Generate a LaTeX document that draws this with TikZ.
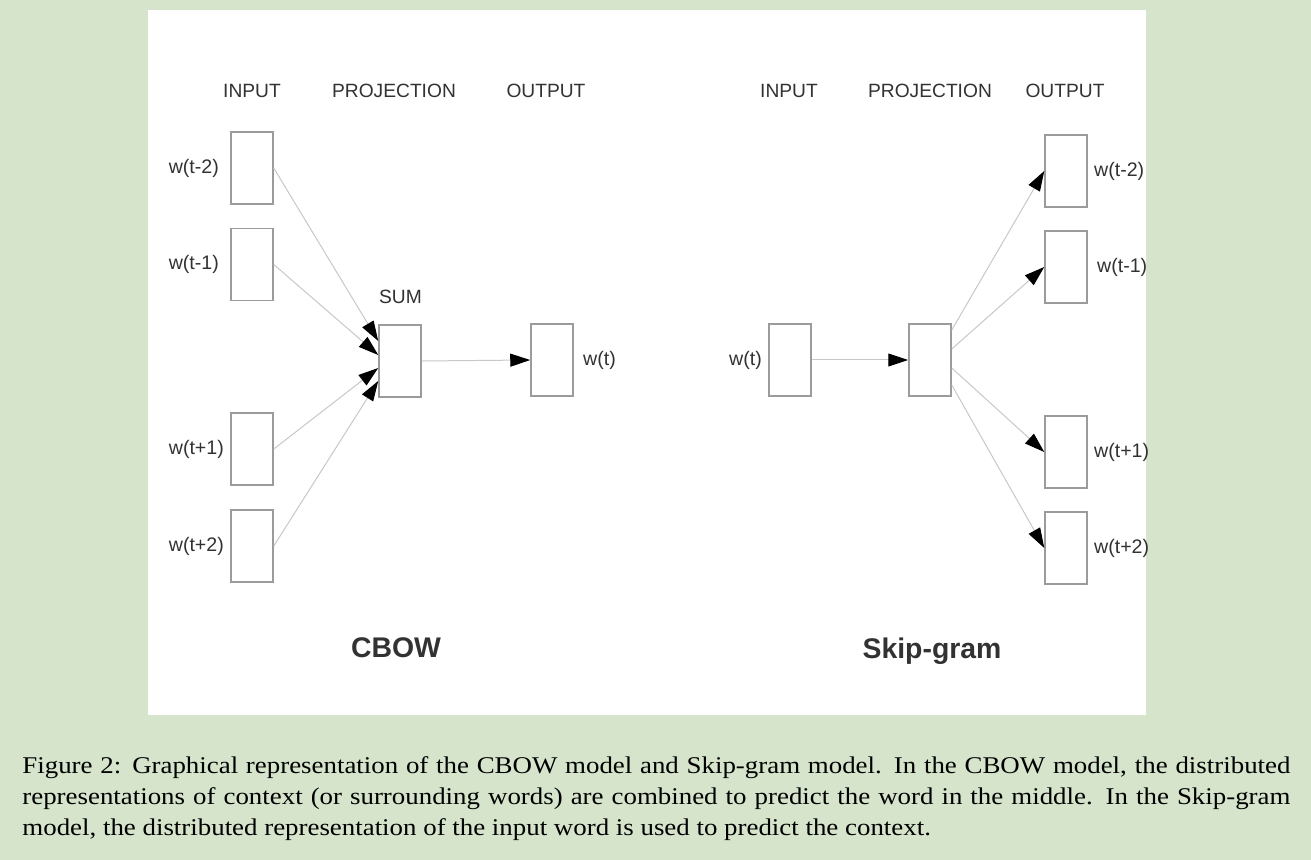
\documentclass[tikz,border=0pt]{standalone}
\usepackage{fontspec}
\setmainfont{Liberation Serif}[FakeStretch=1.12]
\setsansfont{Liberation Sans}
\usepackage{tikz}
\usetikzlibrary{arrows.meta,positioning}
\definecolor{bggreen}{RGB}{213,228,203}
\definecolor{boxgray}{RGB}{155,155,155}
\definecolor{wiregray}{RGB}{200,200,200}
\definecolor{inkgray}{RGB}{50,50,50}
\tikzstyle{cell}=[rectangle,draw=boxgray,line width=0.75pt,fill=white,
  minimum width=21pt,minimum height=36pt,inner sep=0pt]
\tikzstyle{hdr}=[font=\sffamily\fontsize{9.6}{11}\selectfont,text=inkgray]
\tikzstyle{wlabel}=[font=\sffamily\fontsize{9.8}{11}\selectfont,text=inkgray,inner sep=0pt]
\tikzstyle{mname}=[font=\sffamily\bfseries\fontsize{14.2}{16}\selectfont,text=inkgray]
\tikzstyle{caption}=[text width=634pt,align=justify,inner sep=0pt,
  font=\fontsize{12}{15.5}\selectfont]
\tikzstyle{arrow}=[-{Triangle[length=10pt,width=6.5pt,color=black]},
  line width=0.5pt,draw=wiregray]

\begin{document}
\begin{tikzpicture}[x=0.5pt,y=-0.5pt]

  \fill[bggreen] (0,0) rectangle (1311,860);
  \fill[white] (148,10) rectangle (1146,715);
  \useasboundingbox (0,0) rectangle (1311,860);

  % CBOW
  \node[hdr] (cIn)   at (252,91) {INPUT};
  \node[hdr] (cProj) at (394,91) {PROJECTION};
  \node[hdr] (cOut)  at (546,91) {OUTPUT};

  \node[cell] (cw1) at (252,168) {};
  \node[cell] (cw2) at (252,264.5) {};
  \node[cell] (cw3) at (252,449) {};
  \node[cell] (cw4) at (252,546) {};
  \node[wlabel, left=5.5pt of cw1] (cw1l) {w(t-2)};
  \node[wlabel, left=5.5pt of cw2] (cw2l) {w(t-1)};
  \node[wlabel, left=3pt of cw3]   (cw3l) {w(t+1)};
  \node[wlabel, left=3pt of cw4]   (cw4l) {w(t+2)};

  \node[cell] (sum) at (400,361) {};
  \node[hdr] (suml) at (400.5,296.5) {SUM};
  \node[cell] (cwt) at (552,360) {};
  \node[wlabel, right=4.5pt of cwt] (cwtl) {w(t)};

  \node[mname] (cbow) at (396,648) {CBOW};

  % Skip-gram
  \node[hdr] (sIn)   at (789,91) {INPUT};
  \node[hdr] (sProj) at (930,91) {PROJECTION};
  \node[hdr] (sOut)  at (1065,91) {OUTPUT};

  \node[cell] (swt)  at (790,360) {};
  \node[wlabel, left=3pt of swt] (swtl) {w(t)};
  \node[cell] (proj) at (930,360) {};

  \node[cell] (sw1) at (1066,171) {};
  \node[cell] (sw2) at (1066,267) {};
  \node[cell] (sw3) at (1066,452) {};
  \node[cell] (sw4) at (1066,548) {};
  \node[wlabel, right=3pt of sw1]   (sw1l) {w(t-2)};
  \node[wlabel, right=4.5pt of sw2] (sw2l) {w(t-1)};
  \node[wlabel, right=3pt of sw3]   (sw3l) {w(t+1)};
  \node[wlabel, right=3pt of sw4]   (sw4l) {w(t+2)};

  \node[mname] (skip) at (932,651) {Skip-gram};

  % Arrows
  \draw[arrow] (cw1.east) -- ([yshift=10pt]sum.west);
  \draw[arrow] (cw2.east) -- ([yshift=3pt]sum.west);
  \draw[arrow] (cw3.east) -- ([yshift=-3.5pt]sum.west);
  \draw[arrow] (cw4.east) -- ([yshift=-10pt]sum.west);
  \draw[arrow] (sum.east) -- (cwt.west);

  \draw[arrow] (swt.east) -- (proj.west);
  \draw[arrow] ([yshift=15pt]proj.east) -- (sw1.west);
  \draw[arrow] ([yshift=5.5pt]proj.east) -- (sw2.west);
  \draw[arrow] ([yshift=-4pt]proj.east) -- (sw3.west);
  \draw[arrow] ([yshift=-12.5pt]proj.east) -- (sw4.west);

  % Caption
  \node[caption, anchor=north west] (cap) at (22,756) {Figure 2: Graphical representation of the CBOW model and Skip-gram model. In the CBOW model, the distributed representations of context (or surrounding words) are combined to predict the word in the middle. In the Skip-gram model, the distributed representation of the input word is used to predict the context.};

\end{tikzpicture}
\end{document}
